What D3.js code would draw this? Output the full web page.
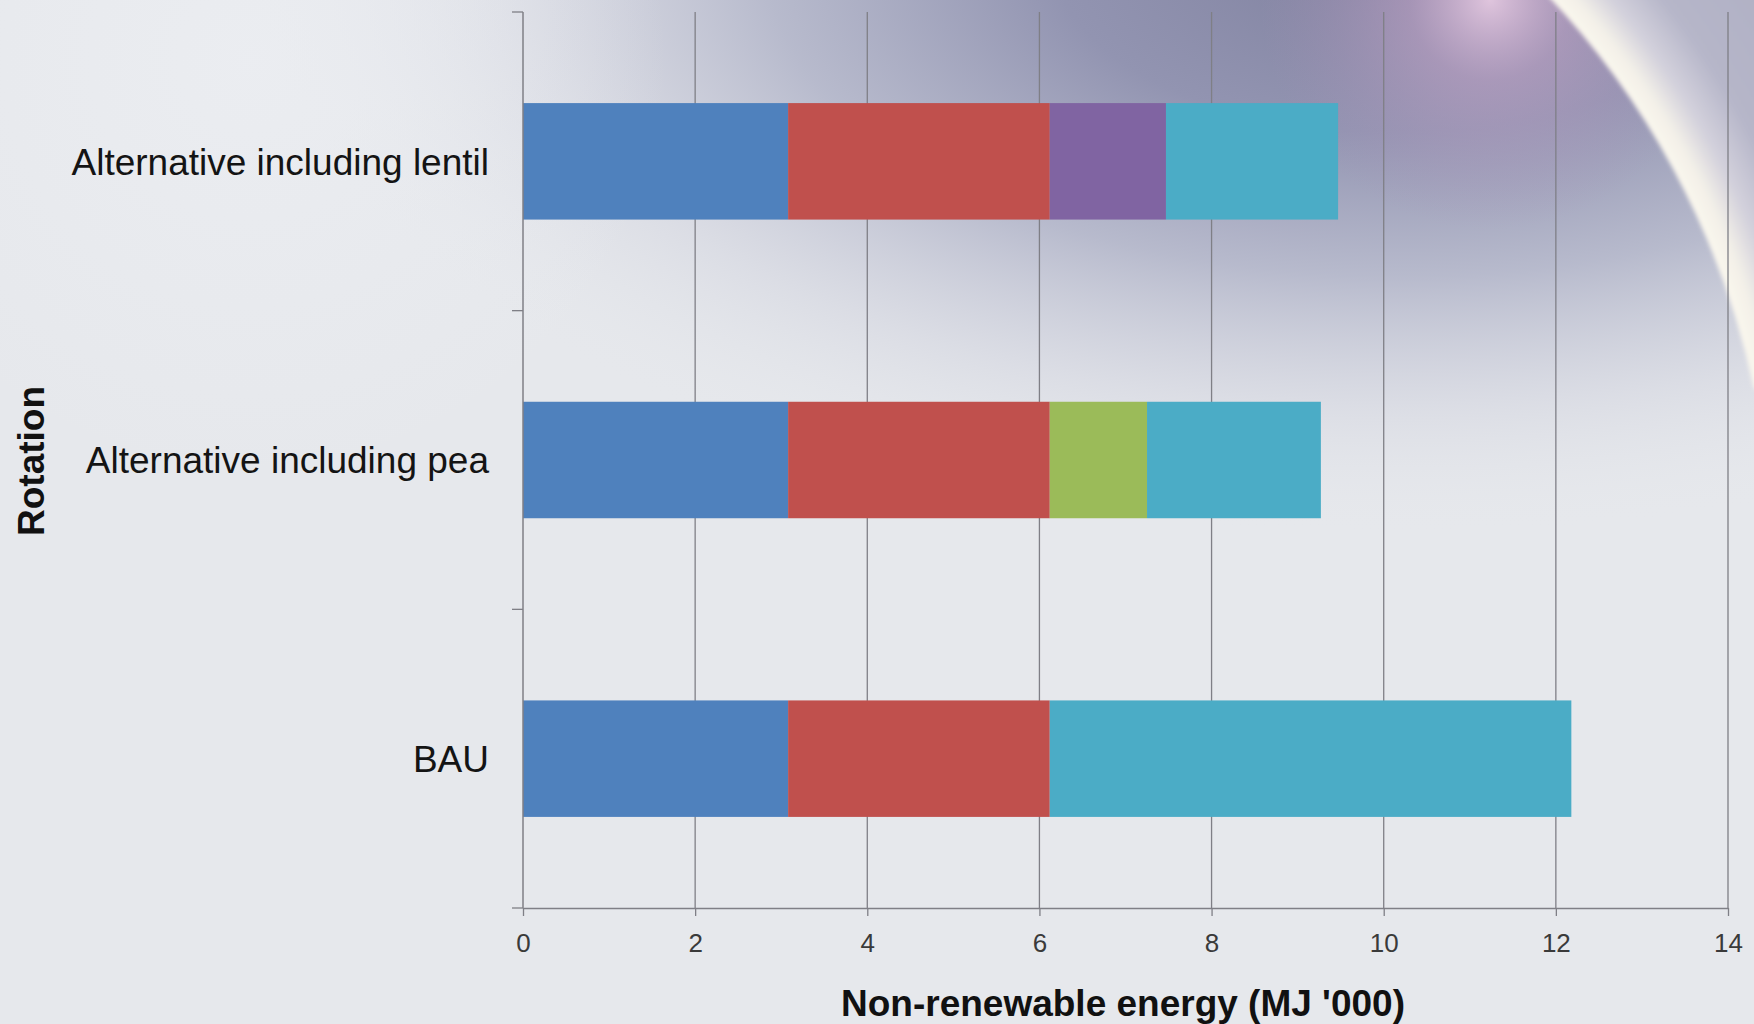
<!DOCTYPE html>
<html>
<head>
<meta charset="utf-8">
<script src="https://cdn.jsdelivr.net/npm/d3@7"></script>
<style>
  html, body { margin: 0; padding: 0; background: #e6e8ec; }
  svg { display: block; }
  text { font-family: "Liberation Sans", Arial, sans-serif; }
</style>
</head>
<body>
<svg id="chart" width="1754" height="1024"></svg>
<script>
// Rotations, listed top to bottom
const rotations = ["Alternative including lentil", "Alternative including pea", "BAU"];

// Non-renewable energy per rotation component (MJ '000)
const component1 = [3.08, 3.08, 3.08];   // blue
const component2 = [3.04, 3.04, 3.04];   // red
const lentilCrop = [1.35, 0, 0];         // purple
const peaCrop    = [0, 1.13, 0];         // green
const component5 = [2.00, 2.02, 6.06];   // teal

const seriesKeys = ["component1", "component2", "lentil", "pea", "component5"];
const seriesColors = ["#4f81bd", "#c0504d", "#8064a2", "#9bbb59", "#4bacc6"];

const xTicks = [0, 2, 4, 6, 8, 10, 12, 14];
const xTitle = "Non-renewable energy (MJ '000)";
const yTitle = "Rotation";

const rows = rotations.map((r, i) => ({
  rotation: r,
  component1: component1[i],
  component2: component2[i],
  lentil: lentilCrop[i],
  pea: peaCrop[i],
  component5: component5[i]
}));

const W = 1754, H = 1024;
const plot = { left: 523, right: 1728, top: 12, bottom: 908 };

const svg = d3.select("#chart");
const defs = svg.append("defs");

// ---- slide-style background ----
// broad blue-grey darkening across the top, strongest toward the right
const shade = defs.append("radialGradient").attr("id", "shade")
  .attr("gradientUnits", "userSpaceOnUse")
  .attr("cx", 1400).attr("cy", -40).attr("r", 1150)
  .attr("gradientTransform", "translate(0,-40) scale(1,0.5) translate(0,40)");
[[0, "#80819f", 1], [0.3, "#9294b1", 1], [0.55, "#b2b5c9", 0.9], [0.78, "#d4d6e0", 0.6], [1, "#e6e8ec", 0]]
  .forEach(([o, c, a]) => shade.append("stop").attr("offset", o).attr("stop-color", c).attr("stop-opacity", a));

const glow = defs.append("radialGradient").attr("id", "glow")
  .attr("gradientUnits", "userSpaceOnUse")
  .attr("cx", 1490).attr("cy", 0).attr("r", 230);
[[0, "#e4c8e0", 0.95], [0.35, "#c0a0c4", 0.55], [1, "#a890b8", 0]]
  .forEach(([o, c, a]) => glow.append("stop").attr("offset", o).attr("stop-color", c).attr("stop-opacity", a));

const topLeft = defs.append("radialGradient").attr("id", "topLeft")
  .attr("gradientUnits", "userSpaceOnUse")
  .attr("cx", 250).attr("cy", 60).attr("r", 420);
[[0, "#eef0f4", 0.6], [1, "#eef0f4", 0]]
  .forEach(([o, c, a]) => topLeft.append("stop").attr("offset", o).attr("stop-color", c).attr("stop-opacity", a));

// circle that the bright sweep follows
const arcC = { x: 950, y: 560, r: 822 };
const sheenR = 1100;
const sheen = defs.append("radialGradient").attr("id", "sheen")
  .attr("gradientUnits", "userSpaceOnUse")
  .attr("cx", arcC.x).attr("cy", arcC.y).attr("r", sheenR);
[[arcC.r - 5, "#fcf9ef"], [arcC.r + 18, "#f3f0e8"], [arcC.r + 45, "#d3d1dc"], [arcC.r + 85, "#b6b6c9"], [sheenR, "#a9aabf"]]
  .forEach(([o, c]) => sheen.append("stop").attr("offset", o / sheenR).attr("stop-color", c));

defs.append("filter").attr("id", "soft").attr("x", "-30%").attr("y", "-30%").attr("width", "160%").attr("height", "160%")
  .append("feGaussianBlur").attr("stdDeviation", 30);
defs.append("filter").attr("id", "edge")
  .append("feGaussianBlur").attr("stdDeviation", 2);

const bg = svg.append("g");
bg.append("rect").attr("width", W).attr("height", H).attr("fill", "#e6e8ec");
bg.append("rect").attr("width", W).attr("height", H).attr("fill", "url(#shade)");
bg.append("rect").attr("width", W).attr("height", H).attr("fill", "url(#topLeft)");

// arc of radius r from the top edge (y = yTop) to the right edge (x = W)
const arcD = (r, yTop) => {
  const x0 = arcC.x + Math.sqrt(r * r - (arcC.y - yTop) ** 2);
  const y1 = arcC.y - Math.sqrt(r * r - (W - arcC.x) ** 2);
  return { x0, y1, d: `M${x0},${yTop} A${r},${r} 0 0 1 ${W},${y1}` };
};

// dark band hugging the inside of the sweep
bg.append("path").attr("d", arcD(arcC.r - 55, -60).d).attr("fill", "none")
  .attr("stroke", "#6c6d94").attr("stroke-width", 100).attr("stroke-opacity", 0.8)
  .attr("filter", "url(#soft)");
bg.append("rect").attr("width", W).attr("height", H).attr("fill", "url(#glow)");

// bright sweep outside the arc
const outer = arcD(arcC.r, -20);
bg.append("path")
  .attr("d", `${outer.d} L${W + 20},${outer.y1} L${W + 20},-20 Z`)
  .attr("fill", "url(#sheen)")
  .attr("filter", "url(#edge)");

// ---- scales ----
const x = d3.scaleLinear().domain([0, 14]).range([plot.left, plot.right]);
const y = d3.scaleBand().domain(rotations).range([plot.top, plot.bottom])
  .paddingInner(0.61).paddingOuter(0.305);

// vertical gridlines
svg.append("g")
  .selectAll("line").data(xTicks.slice(1)).join("line")
  .attr("x1", d => x(d)).attr("x2", d => x(d))
  .attr("y1", plot.top).attr("y2", plot.bottom)
  .attr("stroke", "#7f7f86").attr("stroke-width", 1.3);

// stacked bars
const stacked = d3.stack().keys(seriesKeys)(rows);
svg.append("g").selectAll("g").data(stacked).join("g")
  .attr("fill", (d, i) => seriesColors[i])
  .selectAll("rect").data(d => d.filter(s => s[1] - s[0] > 0)).join("rect")
  .attr("x", d => x(d[0]))
  .attr("width", d => x(d[1]) - x(d[0]))
  .attr("y", d => y(d.data.rotation))
  .attr("height", y.bandwidth());

// x axis
const xAxis = svg.append("g").attr("transform", `translate(0,${plot.bottom})`)
  .call(d3.axisBottom(x).tickValues(xTicks).tickSize(8).tickSizeOuter(0).tickPadding(18));
xAxis.select(".domain").attr("stroke", "#7f7f86").attr("stroke-width", 1.5);
xAxis.selectAll(".tick line").attr("stroke", "#7f7f86").attr("stroke-width", 1.3);
xAxis.selectAll(".tick text")
  .attr("font-size", 26).attr("fill", "#3a3a3a")
  .attr("font-family", "'Liberation Sans', Arial, sans-serif");

// y axis line and category-boundary ticks
const boundaries = d3.range(rotations.length + 1).map(i => plot.top + i * y.step());
svg.append("line")
  .attr("x1", plot.left).attr("x2", plot.left)
  .attr("y1", plot.top).attr("y2", plot.bottom)
  .attr("stroke", "#7f7f86").attr("stroke-width", 1.5);
svg.append("g").selectAll("line").data(boundaries).join("line")
  .attr("x1", plot.left - 11).attr("x2", plot.left)
  .attr("y1", d => d).attr("y2", d => d)
  .attr("stroke", "#7f7f86").attr("stroke-width", 1.3);

// category labels
svg.append("g").selectAll("text").data(rotations).join("text")
  .attr("x", 489)
  .attr("y", d => y(d) + y.bandwidth() / 2)
  .attr("dy", "0.36em")
  .attr("text-anchor", "end")
  .attr("font-size", 37)
  .attr("fill", "#141414")
  .text(d => d);

// axis titles
svg.append("text")
  .attr("x", 1123).attr("y", 1016)
  .attr("text-anchor", "middle")
  .attr("font-size", 37).attr("font-weight", "bold")
  .attr("fill", "#111")
  .text(xTitle);

svg.append("text")
  .attr("transform", "translate(44,461) rotate(-90)")
  .attr("text-anchor", "middle")
  .attr("font-size", 37).attr("font-weight", "bold")
  .attr("fill", "#111")
  .text(yTitle);
</script>
</body>
</html>
